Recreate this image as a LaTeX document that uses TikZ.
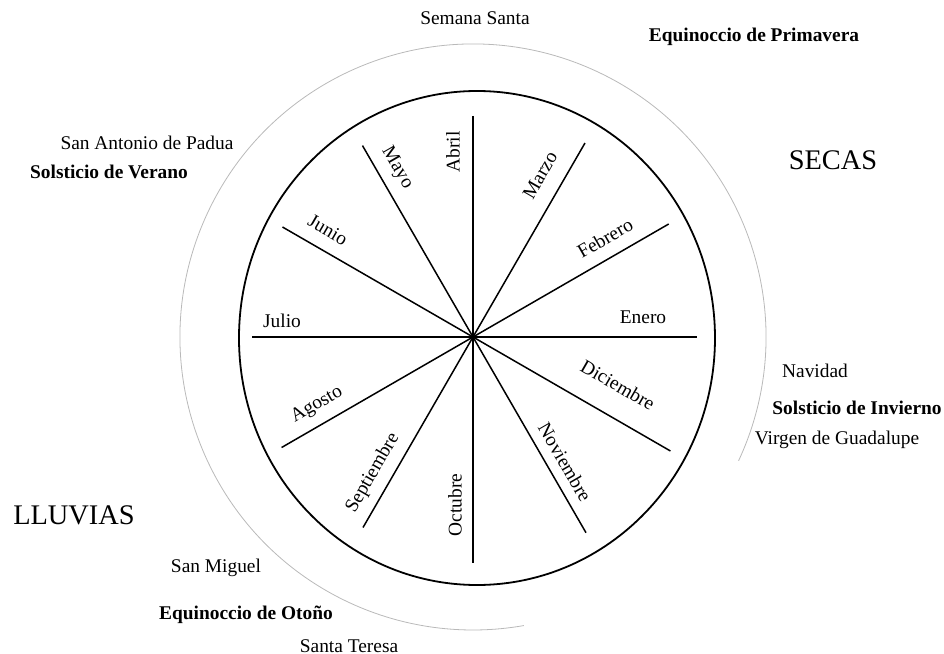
\documentclass[tikz,border=0pt]{standalone}
\usepackage{fontspec}
\setmainfont{Liberation Serif}
\usetikzlibrary{calc}

\begin{document}
\begin{tikzpicture}[x=0.5pt, y=0.5pt, every node/.style={font=\fontsize{9.7}{11}\selectfont, inner sep=0pt},
  mes/.style={anchor=center}, fiesta/.style={anchor=center}, evento/.style={anchor=center, font=\fontsize{9.7}{11}\selectfont\bfseries},
  estacion/.style={anchor=center, font=\fontsize{14.2}{16}\selectfont}]
  \useasboundingbox (-473,-317) rectangle (471,337);
  \coordinate (centro) at (0,0);
  % circulos
  \draw[gray!55, line width=0.4pt] (centro) ++(-25:293) arc[start angle=-25, end angle=280, radius=293];
  \draw[line width=0.9pt] ($(centro)+(4,-1)$) ellipse[x radius=238, y radius=247];
  % radios
  \draw[line width=0.75pt] (centro) +(0:224) -- +(180:221);
  \draw[line width=0.75pt] (centro) +(30:226) -- +(210:221);
  \draw[line width=0.75pt] (centro) +(60:224) -- +(240:220);
  \draw[line width=0.75pt] (centro) +(90:221) -- +(270:226);
  \draw[line width=0.75pt] (centro) +(120:221) -- +(300:226);
  \draw[line width=0.75pt] (centro) +(150:220) -- +(330:228);
  % meses
  \node[mes] (enero) at (170,20) {Enero};
  \node[mes, rotate=30] (febrero) at (132,99) {Febrero};
  \node[mes, rotate=60] (marzo) at (67,162) {Marzo};
  \node[mes, rotate=90] (abril) at (-20,185) {Abril};
  \node[mes, rotate=-60] (mayo) at (-76,169) {Mayo};
  \node[mes, rotate=-30] (junio) at (-145,107) {Junio};
  \node[mes] (julio) at (-191,16) {Julio};
  \node[mes, rotate=30] (agosto) at (-156,-68) {Agosto};
  \node[mes, rotate=60] (septiembre) at (-100,-136) {Septiembre};
  \node[mes, rotate=90] (octubre) at (-18,-168) {Octubre};
  \node[mes, rotate=-60] (noviembre) at (92,-125) {Noviembre};
  \node[mes, rotate=-30] (diciembre) at (145,-48) {Diciembre};
  % fiestas y eventos
  \node[fiesta] (semanaSanta) at (2,319) {Semana Santa};
  \node[evento] (eqPrimavera) at (281,300) {Equinoccio de Primavera};
  \node[fiesta] (sanAntonio) at (-326,194) {San Antonio de Padua};
  \node[evento] (solVerano) at (-364,165) {Solsticio de Verano};
  \node[fiesta] (navidad) at (342,-34) {Navidad};
  \node[evento] (solInvierno) at (384,-71) {Solsticio de Invierno};
  \node[fiesta] (guadalupe) at (364,-103) {Virgen de Guadalupe};
  \node[fiesta] (sanMiguel) at (-257,-231) {San Miguel};
  \node[evento] (eqOtono) at (-227,-278) {Equinoccio de Otoño};
  \node[fiesta] (santaTeresa) at (-124,-309) {Santa Teresa};
  % estaciones
  \node[estacion] (secas) at (360,177) {SECAS};
  \node[estacion] (lluvias) at (-399,-178) {LLUVIAS};
\end{tikzpicture}
\end{document}
